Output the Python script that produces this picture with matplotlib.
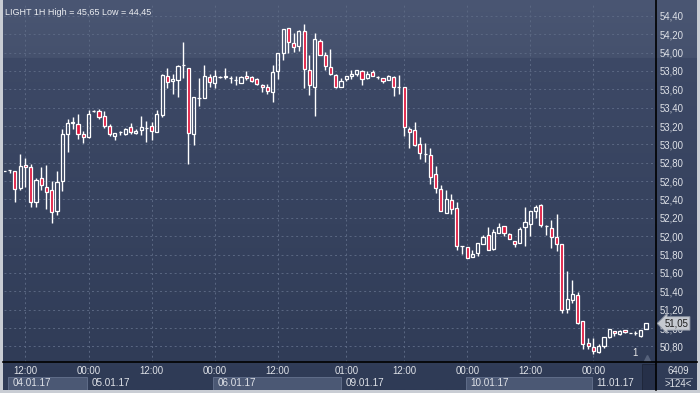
import matplotlib
matplotlib.use("Agg")
import matplotlib.pyplot as plt
import numpy as np
from matplotlib.patches import Rectangle
from matplotlib.colors import to_rgb
import matplotlib.transforms as mtransforms

# --- data (hourly candles, index 0 = first visible bar) ---
opens = [52.71, 52.72, 52.71, 52.53, 52.78, 52.75, 52.37, 52.63, 52.54, 52.50,
         52.28, 52.60, 53.11, 53.23, 53.22, 53.11, 53.08, 53.36, 53.36, 53.31,
         53.20, 53.09, 53.13, 53.11, 53.19, 53.12, 53.16, 53.18, 53.20, 53.13,
         53.32, 53.74, 53.69, 53.70, 53.86, 53.83, 53.11, 53.51, 53.51, 53.73,
         53.67, 53.73, 53.73, 53.72, 53.70, 53.67, 53.74, 53.73, 53.71, 53.65,
         53.63, 53.57, 53.80, 53.99, 54.27, 54.10, 54.07, 54.24, 53.81, 53.63,
         54.13, 53.97, 53.84, 53.76, 53.62, 53.71, 53.74, 53.77, 53.80, 53.72,
         53.79, 53.73, 53.72, 53.70, 53.73, 53.62, 53.62, 53.17, 53.16, 53.00,
         52.89, 52.88, 52.68, 52.51, 52.25, 52.39, 52.31, 51.89, 51.88, 51.77,
         51.82, 51.92, 52.01, 51.86, 52.04, 52.11, 52.02, 51.95, 51.93, 52.10,
         52.13, 52.28, 52.34, 52.11, 52.09, 51.99, 51.92, 51.21, 51.31, 51.36,
         51.08, 50.84, 50.79, 50.74, 50.80, 50.90, 50.97, 50.93, 50.98, 50.95,
         50.95, 50.91, 50.99]
highs = [52.71, 52.72, 52.71, 52.89, 52.85, 52.79, 52.63, 52.75, 52.78, 52.60,
         52.71, 53.17, 53.28, 53.30, 53.33, 53.15, 53.37, 53.37, 53.39, 53.36,
         53.22, 53.12, 53.15, 53.18, 53.23, 53.17, 53.31, 53.25, 53.24, 53.37,
         53.77, 53.83, 53.77, 53.87, 54.11, 53.83, 53.52, 53.72, 53.86, 53.77,
         53.81, 53.74, 53.83, 53.74, 53.75, 53.74, 53.80, 53.74, 53.72, 53.66,
         53.66, 53.86, 54.00, 54.26, 54.27, 54.21, 54.25, 54.31, 53.97, 54.21,
         54.15, 54.01, 54.04, 53.77, 53.72, 53.75, 53.81, 53.81, 53.81, 53.80,
         53.81, 53.75, 53.72, 53.76, 53.75, 53.76, 53.62, 53.19, 53.24, 53.08,
         53.02, 52.96, 52.76, 52.56, 52.50, 52.46, 52.37, 51.89, 51.88, 51.85,
         51.93, 52.01, 52.10, 52.08, 52.14, 52.11, 52.04, 51.95, 52.10, 52.32,
         52.27, 52.34, 52.35, 52.12, 52.18, 52.24, 51.92, 51.62, 51.52, 51.39,
         51.08, 50.89, 50.89, 50.83, 50.90, 50.99, 50.97, 50.98, 50.98, 50.95,
         50.97, 50.98, 51.05]
lows = [52.71, 52.69, 52.37, 52.50, 52.54, 52.32, 52.32, 52.50, 52.30, 52.14,
        52.23, 52.49, 52.92, 53.17, 53.06, 53.02, 53.07, 53.35, 53.28, 53.18,
        53.09, 53.05, 53.10, 53.10, 53.11, 53.11, 53.10, 53.03, 53.05, 53.13,
        53.30, 53.61, 53.55, 53.52, 53.72, 52.79, 52.99, 53.42, 53.51, 53.63,
        53.61, 53.72, 53.71, 53.67, 53.65, 53.67, 53.70, 53.68, 53.65, 53.57,
        53.55, 53.46, 53.71, 53.92, 54.00, 54.01, 54.02, 53.61, 53.54, 53.31,
        53.97, 53.81, 53.76, 53.61, 53.62, 53.69, 53.71, 53.74, 53.65, 53.71,
        53.74, 53.71, 53.67, 53.70, 53.53, 53.55, 53.09, 52.96, 52.98, 52.84,
        52.81, 52.57, 52.47, 52.27, 52.25, 52.24, 51.85, 51.81, 51.76, 51.77,
        51.78, 51.91, 51.85, 51.85, 52.04, 52.00, 51.97, 51.88, 51.93, 51.89,
        52.00, 52.20, 52.10, 52.01, 51.87, 51.84, 51.16, 51.16, 51.27, 51.04,
        50.77, 50.77, 50.72, 50.73, 50.78, 50.89, 50.91, 50.92, 50.95, 50.95,
        50.92, 50.90, 50.99]
closes = [52.71, 52.72, 52.51, 52.77, 52.75, 52.37, 52.61, 52.56, 52.48, 52.26,
          52.59, 53.11, 53.23, 53.24, 53.11, 53.08, 53.33, 53.36, 53.30, 53.20,
          53.11, 53.12, 53.13, 53.17, 53.14, 53.15, 53.19, 53.18, 53.15, 53.33,
          53.76, 53.68, 53.71, 53.85, 53.86, 53.12, 53.52, 53.51, 53.74, 53.68,
          53.75, 53.73, 53.74, 53.72, 53.70, 53.73, 53.72, 53.69, 53.66, 53.63,
          53.58, 53.79, 54.00, 54.26, 54.11, 54.06, 54.24, 53.82, 53.65, 54.15,
          53.97, 53.85, 53.77, 53.62, 53.69, 53.75, 53.77, 53.81, 53.71, 53.77,
          53.74, 53.73, 53.69, 53.75, 53.63, 53.62, 53.19, 53.14, 52.99, 52.91,
          52.89, 52.65, 52.52, 52.27, 52.40, 52.30, 51.89, 51.89, 51.76, 51.81,
          51.93, 51.99, 51.85, 52.05, 52.10, 52.03, 51.97, 51.92, 52.08, 52.15,
          52.27, 52.32, 52.12, 52.11, 51.99, 51.92, 51.20, 51.32, 51.37, 51.06,
          50.83, 50.80, 50.75, 50.80, 50.90, 50.99, 50.95, 50.97, 50.96, 50.95,
          50.95, 50.98, 51.05]

time_ticks = [4, 16, 28, 40, 52, 65, 76, 88, 100, 112]
time_labels = ["12:00", "00:00", "12:00", "00:00", "12:00", "01:00",
               "12:00", "00:00", "12:00", "00:00"]
day_starts = [0.7, 15.7, 39.7, 64.0, 87.7, 111.7]
day_ends = [15.7, 39.7, 64.0, 87.7, 111.7, 124.0]
day_labels = ["04.01.17", "05.01.17", "06.01.17", "09.01.17", "10.01.17", "11.01.17"]
day_boxed = [True, False, True, False, True, False]
price_ticks = np.arange(50.80, 54.41, 0.20)
last_price = 51.05
title = "LIGHT 1H High = 45,65 Low = 44,45"

plt.rcParams["font.family"] = ["Liberation Sans", "DejaVu Sans"]
FS = 6.9
TXT = "#dfe2e8"

W, H = 700, 393
fig = plt.figure(figsize=(W / 100, H / 100), dpi=100)
fig.patch.set_facecolor("#c9cdd4")

# background gradient behind everything
bg = fig.add_axes([0, 0, 1, 1], zorder=-10)
bg.set_xlim(0, 1)
bg.set_ylim(0, 1)
bg.axis("off")
rows = np.arange(390)
anchors = [0, 57, 58, 389]
cols = [to_rgb("#4a5673"), to_rgb("#45516d"), to_rgb("#3d4966"), to_rgb("#2f3b56")]
grad = np.stack([np.interp(rows, anchors, [c[k] for c in cols]) for k in range(3)], axis=-1)
grad = np.repeat(grad[:, None, :], 2, axis=1)
bg.imshow(grad, extent=[3 / W, 697 / W, 3 / H, 1], aspect="auto", interpolation="bilinear")

# main price axes
ax = fig.add_axes([3.5 / W, 1 - 362 / H, 652.5 / W, 359 / H])
ax.set_facecolor("none")
ax.set_xlim(-0.17, 123.9)
ax.set_ylim(50.63, 54.54)

idx = np.arange(len(opens))
o = np.array(opens)
c = np.array(closes)
hi = np.array(highs)
lo = np.array(lows)
top = np.maximum(o, c)
bot = np.minimum(o, c)
up = c >= o

ax.vlines(idx, top, hi, color="white", lw=1.0, zorder=3)
ax.vlines(idx, lo, bot, color="white", lw=1.0, zorder=3)
ax.bar(idx[up], (top - bot)[up], bottom=bot[up], width=0.6,
       facecolor="none", edgecolor="white", linewidth=0.9, zorder=4)
ax.bar(idx[~up], (top - bot)[~up], bottom=bot[~up], width=0.6,
       facecolor="#e0153c", edgecolor="white", linewidth=0.9, zorder=4)

ax.set_xticks(time_ticks)
ax.set_yticks(price_ticks)
ax.grid(True, color="#5b6883", lw=0.7, linestyle=(0, (2, 3)))
ax.set_axisbelow(True)
ax.tick_params(axis="x", length=0, labelbottom=False)
ax.yaxis.tick_right()
ax.tick_params(axis="y", length=0, pad=2.5, labelsize=FS, labelcolor=TXT)
ax.set_yticklabels([f"{v:.2f}".replace(".", ",") for v in price_ticks])
for s in ax.spines.values():
    s.set_visible(False)

ax.text(0.003, 0.985, title, transform=ax.transAxes, ha="left", va="top",
        fontsize=6.5, color="#eceef2")
ax.text(0.968, 0.012, "1", transform=ax.transAxes, ha="center", va="bottom",
        fontsize=FS, color="#e8e8e8")
ax.plot([0.986], [0.01], marker="^", ms=4, color="#56627b", transform=ax.transAxes,
        clip_on=False)

# last price marker on the price scale
trans = mtransforms.blended_transform_factory(ax.transAxes, ax.transData)
ax.annotate(f"{last_price:.2f}".replace(".", ","), xy=(1.0, last_price), xycoords=trans,
            xytext=(6, 0), textcoords="offset points", ha="left", va="center",
            fontsize=FS, color="#1c1c1c", annotation_clip=False, zorder=10,
            bbox=dict(boxstyle="larrow,pad=0.18", fc="#c5c9d0", ec="#8d95a3", lw=0.6))

# separator lines
fig.add_artist(plt.Line2D([3 / W, 697 / W], [1 - 362 / H] * 2, color="black", lw=1.2))
fig.add_artist(plt.Line2D([656 / W] * 2, [3 / H, 1], color="black", lw=1.2))

# time scale strip
tx = fig.add_axes([3.5 / W, 3 / H, 652.5 / W, 28 / H], sharex=ax)
tx.set_facecolor("none")
tx.set_ylim(0, 1)
tx.axis("off")
for a, b, lab, boxed in zip(day_starts, day_ends, day_labels, day_boxed):
    if boxed:
        tx.add_patch(Rectangle((a, 0), b - a, 0.46, fc="#4b5874", ec="#606d89", lw=0.7))
    tx.annotate(lab, xy=(a, 0.24), xytext=(3.5, 0), textcoords="offset points",
                ha="left", va="center", fontsize=FS + 0.2, color=TXT)
for t, lab in zip(time_ticks, time_labels):
    tx.text(t, 0.68, lab, ha="center", va="center", fontsize=FS, color=TXT)
tx.add_patch(Rectangle((0.979, 0.0), 0.021, 0.93, transform=tx.transAxes,
                       fc="#263049", ec="#1d2538", lw=0.6))

# bar counter box
fig.text(678 / W, 1 - 371 / H, "6409", ha="center", va="center", fontsize=FS, color=TXT)
fig.text(678 / W, 1 - 384 / H, ">124<", ha="center", va="center", fontsize=FS, color=TXT)
fig.add_artist(plt.Line2D([665 / W, 692 / W], [1 - 378 / H] * 2, color="#8a93a5", lw=0.6))

fig.savefig("out.png", dpi=100, facecolor=fig.get_facecolor())
